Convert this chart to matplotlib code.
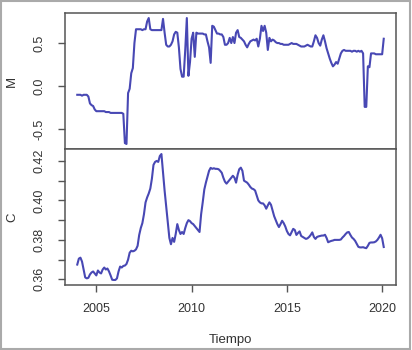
import numpy as np
import matplotlib
matplotlib.use("Agg")
import matplotlib.pyplot as plt
from matplotlib.patches import Rectangle

plt.rcParams['font.family'] = ['Liberation Sans', 'DejaVu Sans']

start_year = 2004.0
M = [-0.10, -0.10, -0.10, -0.11, -0.10, -0.10, -0.10, -0.12, -0.20, -0.22,
     -0.23, -0.27, -0.29, -0.29, -0.29, -0.29, -0.29, -0.29, -0.30, -0.30,
     -0.30, -0.31, -0.31, -0.31, -0.31, -0.31, -0.31, -0.31, -0.31, -0.32,
     -0.66, -0.67, -0.08, -0.03, 0.15, 0.21, 0.50, 0.66, 0.66, 0.66,
     0.66, 0.65, 0.66, 0.66, 0.75, 0.79, 0.66, 0.65, 0.65, 0.65,
     0.65, 0.65, 0.65, 0.65, 0.78, 0.62, 0.48, 0.46, 0.46, 0.48,
     0.52, 0.60, 0.63, 0.62, 0.45, 0.20, 0.11, 0.11, 0.42, 0.79,
     0.12, 0.28, 0.55, 0.62, 0.34, 0.62, 0.61, 0.61, 0.61, 0.61,
     0.60, 0.60, 0.52, 0.45, 0.27, 0.70, 0.69, 0.65, 0.61, 0.61,
     0.60, 0.60, 0.57, 0.48, 0.48, 0.50, 0.56, 0.50, 0.57, 0.50,
     0.62, 0.65, 0.57, 0.56, 0.54, 0.52, 0.48, 0.45, 0.49, 0.52,
     0.53, 0.54, 0.53, 0.55, 0.46, 0.55, 0.70, 0.64, 0.70, 0.62,
     0.42, 0.56, 0.52, 0.54, 0.53, 0.51, 0.50, 0.50, 0.49, 0.49,
     0.48, 0.48, 0.48, 0.48, 0.49, 0.50, 0.49, 0.49, 0.49, 0.48,
     0.47, 0.46, 0.46, 0.46, 0.47, 0.48, 0.47, 0.46, 0.46, 0.52,
     0.59, 0.56, 0.50, 0.47, 0.54, 0.59, 0.52, 0.44, 0.38, 0.32,
     0.27, 0.23, 0.25, 0.28, 0.26, 0.32, 0.38, 0.41, 0.42, 0.41,
     0.41, 0.41, 0.41, 0.40, 0.41, 0.41, 0.40, 0.41, 0.40, 0.41,
     0.38, -0.24, -0.24, 0.23, 0.22, 0.38, 0.38, 0.38, 0.37, 0.37,
     0.37, 0.37, 0.37, 0.55]
C = [0.3675, 0.3705, 0.3710, 0.3690, 0.3650, 0.3610, 0.3605, 0.3608, 0.3625, 0.3635,
     0.3640, 0.3630, 0.3620, 0.3645, 0.3635, 0.3630, 0.3650, 0.3660, 0.3650, 0.3655,
     0.3640, 0.3620, 0.3598, 0.3597, 0.3597, 0.3605, 0.3640, 0.3665, 0.3660, 0.3668,
     0.3670, 0.3678, 0.3700, 0.3735, 0.3745, 0.3742, 0.3745, 0.3752, 0.3770, 0.3825,
     0.3860, 0.3885, 0.3930, 0.3990, 0.4015, 0.4035, 0.4060, 0.4110, 0.4180, 0.4195,
     0.4200, 0.4195, 0.4225, 0.4235, 0.4140, 0.4050, 0.3970, 0.3890, 0.3810, 0.3778,
     0.3810, 0.3790, 0.3830, 0.3880, 0.3850, 0.3830, 0.3840, 0.3830, 0.3860, 0.3885,
     0.3900, 0.3895, 0.3885, 0.3880, 0.3870, 0.3860, 0.3850, 0.3840, 0.3930, 0.3990,
     0.4055, 0.4090, 0.4120, 0.4150, 0.4165, 0.4160, 0.4163, 0.4160, 0.4160, 0.4158,
     0.4150, 0.4140, 0.4115, 0.4095, 0.4085, 0.4095, 0.4105, 0.4115, 0.4125, 0.4115,
     0.4090, 0.4130, 0.4158, 0.4166, 0.4150, 0.4100, 0.4095, 0.4090, 0.4080, 0.4068,
     0.4060, 0.4057, 0.4050, 0.4025, 0.4000, 0.3990, 0.3985, 0.3985, 0.3975, 0.3958,
     0.3975, 0.3990, 0.3978, 0.3950, 0.3920, 0.3900, 0.3880, 0.3865, 0.3880, 0.3897,
     0.3885, 0.3868, 0.3845, 0.3830, 0.3823, 0.3840, 0.3856, 0.3850, 0.3825, 0.3835,
     0.3843, 0.3820, 0.3815, 0.3810, 0.3805, 0.3808, 0.3815, 0.3825, 0.3838, 0.3815,
     0.3805, 0.3815, 0.3818, 0.3820, 0.3822, 0.3822, 0.3826, 0.3810, 0.3788, 0.3792,
     0.3795, 0.3797, 0.3800, 0.3800, 0.3800, 0.3800, 0.3802, 0.3812, 0.3820, 0.3830,
     0.3838, 0.3840, 0.3825, 0.3812, 0.3805, 0.3795, 0.3780, 0.3765, 0.3762, 0.3762,
     0.3763, 0.3760, 0.3758, 0.3770, 0.3785, 0.3787, 0.3787, 0.3788, 0.3792, 0.3800,
     0.3812, 0.3826, 0.3808, 0.3764]
x_ticks = [2005, 2010, 2015, 2020]
m_ticks = [-0.5, 0.0, 0.5]
c_ticks = [0.36, 0.37, 0.38, 0.39, 0.40, 0.41, 0.42]
c_labels = ['0.36', '', '0.38', '', '0.40', '', '0.42']

t = start_year + np.arange(len(M)) / 12.0

W, H = 412, 350
fig = plt.figure(figsize=(W / 100, H / 100), dpi=100)
L, R = 65, 396
T1, MID, B2 = 13, 149, 285
ax1 = fig.add_axes([L / W, 1 - MID / H, (R - L) / W, (MID - T1) / H])
ax2 = fig.add_axes([L / W, 1 - B2 / H, (R - L) / W, (B2 - MID) / H], sharex=ax1)

line_col = '#4848B4'
txt_col = '#333333'
spine_col = '#555555'

ax1.plot(t, M, color=line_col, lw=1.5)
ax2.plot(t, C, color=line_col, lw=1.5)

def pad_lim(v):
    lo, hi = min(v), max(v)
    d = (hi - lo) * 0.04
    return lo - d, hi + d

ax1.set_xlim(pad_lim(t))
ax1.set_ylim(pad_lim(M))
ax2.set_ylim(pad_lim(C))

for ax in (ax1, ax2):
    for s in ax.spines.values():
        s.set_color(spine_col)
        s.set_linewidth(1.1)
    ax.tick_params(colors=spine_col, labelcolor=txt_col, labelsize=9, length=5, width=1)
    ax.tick_params(axis='y', labelrotation=90, pad=9)

ax1.set_yticks(m_ticks)
ax1.set_yticklabels(['%.1f' % v for v in m_ticks])
ax1.tick_params(axis='x', bottom=False, labelbottom=False)
for lab in ax1.get_yticklabels():
    lab.set_va('center')
ax2.set_yticks(c_ticks)
ax2.set_yticklabels(c_labels)
for lab in ax2.get_yticklabels():
    lab.set_va('center')
ax2.set_xticks(x_ticks)
ax2.set_xticklabels([str(v) for v in x_ticks])
ax2.tick_params(axis='x', pad=8)

ax1.set_ylabel('M', fontsize=9.5, color=txt_col)
ax1.yaxis.set_label_coords((12 - L) / (R - L), 0.5)
ax2.set_ylabel('C', fontsize=9.5, color=txt_col)
ax2.yaxis.set_label_coords((12 - L) / (R - L), 0.5)
ax2.set_xlabel('Tiempo', fontsize=9.5, color=txt_col)
ax2.xaxis.set_label_coords(0.5, (B2 - 340) / (B2 - MID))
ax2.xaxis.label.set_va('center')
ax1.yaxis.label.set_va('center')
ax2.yaxis.label.set_va('center')

fig.patches.append(Rectangle((1 / W, 1 / H), 409 / W, 348 / H, transform=fig.transFigure,
                             fill=False, edgecolor='#aaaaaa', linewidth=1.5))

fig.savefig('out.png', dpi=100)
